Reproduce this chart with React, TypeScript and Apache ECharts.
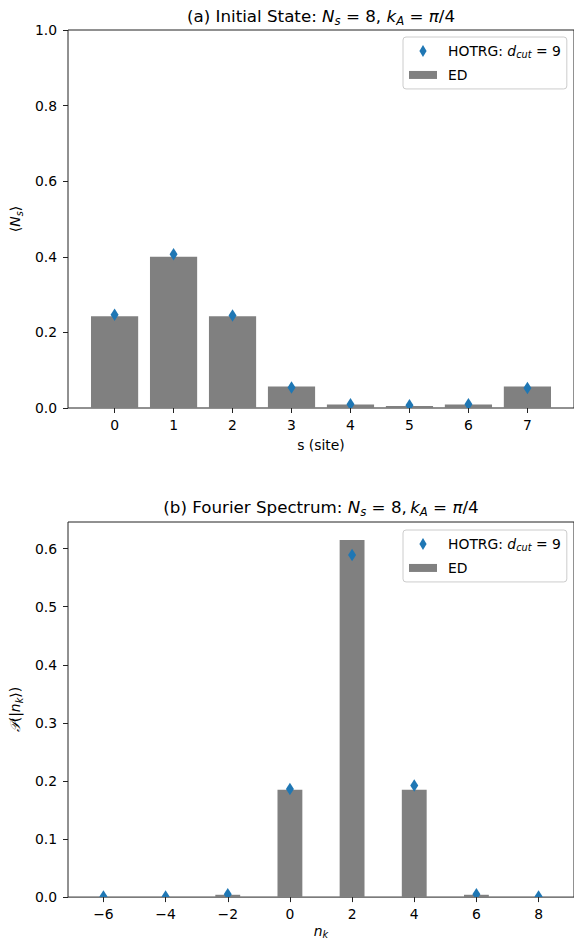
import React, { useEffect, useRef } from 'react';
import * as echarts from 'echarts';

// ---------- data ----------
const siteIndex = [0, 1, 2, 3, 4, 5, 6, 7];
const siteED = [0.243, 0.4, 0.243, 0.057, 0.009, 0.005, 0.009, 0.057];
const siteHOTRG = [0.247, 0.407, 0.245, 0.054, 0.01, 0.007, 0.01, 0.053];
const siteYTicks = [0, 0.2, 0.4, 0.6, 0.8, 1.0];

const nkIndex = [-6, -4, -2, 0, 2, 4, 6, 8];
const nkED = [0, 0, 0.004, 0.185, 0.615, 0.185, 0.004, 0];
const nkHOTRG = [0.001, 0.001, 0.005, 0.186, 0.589, 0.192, 0.005, 0.001];
const nkYTicks = [0, 0.1, 0.2, 0.3, 0.4, 0.5, 0.6];

// ---------- style ----------
const FONT = "'DejaVu Sans', 'Noto Sans', sans-serif";
const BAR_COLOR = '#808080';
const PT_COLOR = '#1f77b4';
const AXIS_COLOR = '#222';
const FS = 13.9;
const TITLE_FS = 16.7;

const DIAMOND_ICON = 'path://M3,0L6,5L3,10L0,5Z';
const RECT_ICON = 'path://M0,0L28,0L28,8L0,8Z';

function richSet(size: number) {
  const lh = size + 4;
  const sub = size * 0.7;
  return {
    t: { fontFamily: FONT, fontSize: size, fontWeight: 'normal', lineHeight: lh, color: '#000' },
    i: { fontFamily: FONT, fontSize: size, fontWeight: 'normal', fontStyle: 'italic', lineHeight: lh, color: '#000' },
    s: {
      fontFamily: FONT,
      fontSize: sub,
      fontWeight: 'normal',
      fontStyle: 'italic',
      lineHeight: sub + 1.5,
      verticalAlign: 'bottom',
      color: '#000',
    },
    sp: { fontFamily: FONT, fontSize: size, width: 6, lineHeight: lh },
  };
}

function diamondRender(_params: any, api: any) {
  const p = api.coord([api.value(0), api.value(1)]);
  const hw = 4;
  const hh = 6.25;
  return {
    type: 'polygon',
    shape: {
      points: [
        [p[0], p[1] - hh],
        [p[0] + hw, p[1]],
        [p[0], p[1] + hh],
        [p[0] - hw, p[1]],
      ],
    },
    style: { fill: PT_COLOR },
  };
}

function barRender(_params: any, api: any) {
  const x = api.value(0);
  const y = api.value(1);
  const a = api.coord([x - 0.4, y]);
  const b = api.coord([x + 0.4, 0]);
  return {
    type: 'rect',
    shape: { x: a[0], y: a[1], width: b[0] - a[0], height: b[1] - a[1] },
    style: { fill: BAR_COLOR },
  };
}

const minusFmt = (v: number) => (v < 0 ? '\u2212' + Math.abs(v) : String(v));

function legendFor(top: number) {
  return {
    left: 403,
    top,
    orient: 'vertical',
    padding: [7, 6, 7, 6],
    itemGap: 8,
    itemWidth: 28,
    itemHeight: 12,
    borderColor: '#cccccc',
    borderWidth: 1,
    borderRadius: 3,
    backgroundColor: 'rgba(255,255,255,0.8)',
    selectedMode: false,
    data: [
      { name: 'HOTRG', icon: DIAMOND_ICON, itemStyle: { color: PT_COLOR } },
      { name: 'ED', icon: RECT_ICON, itemStyle: { color: BAR_COLOR } },
    ],
    formatter: (name: string) =>
      name === 'HOTRG' ? '{sp| }{t|HOTRG: }{i|d}{s|cut}{t| = 9}' : '{sp| }{t|ED}',
    textStyle: { fontFamily: FONT, fontSize: FS, color: '#000', rich: richSet(FS) },
  };
}

const axisCommonY = {
  type: 'value',
  axisLine: { show: false, onZero: false },
  axisTick: { show: true, length: 5, lineStyle: { color: AXIS_COLOR, width: 1 } },
  axisLabel: {
    margin: 11,
    fontFamily: FONT,
    fontSize: FS,
    color: '#000',
    formatter: (v: number) => v.toFixed(1),
  },
  splitLine: { show: false },
  nameLocation: 'middle',
  nameRotate: 90,
  nameGap: 38,
  nameTextStyle: { fontFamily: FONT, fontSize: FS, color: '#000', rich: richSet(FS) },
};

const axisCommonX = {
  type: 'value',
  axisLine: { show: false, onZero: false },
  axisTick: { show: true, length: 5, lineStyle: { color: AXIS_COLOR, width: 1 } },
  splitLine: { show: false },
  nameLocation: 'middle',
  nameTextStyle: { fontFamily: FONT, fontSize: FS, color: '#000', rich: richSet(FS) },
};

const titleStyle = {
  fontFamily: FONT,
  fontSize: TITLE_FS,
  fontWeight: 'normal',
  color: '#000',
  rich: richSet(TITLE_FS),
};

const option: any = {
  animation: false,
  backgroundColor: '#fff',
  title: [
    {
      text: '{t|(a) Initial State: }{i|N}{s|s}{t| = 8, }{i|k}{s|A}{t| = }{i|\u03c0}{t|/4}',
      left: 321,
      top: 6,
      padding: 0,
      textAlign: 'center',
      textStyle: titleStyle,
    },
    {
      text: '{t|(b) Fourier Spectrum: }{i|N}{s|s}{t| = 8,\u2009}{i|k}{s|A}{t| = }{i|\u03c0}{t|/4}',
      left: 321,
      top: 497,
      padding: 0,
      textAlign: 'center',
      textStyle: titleStyle,
    },
  ],
  legend: [legendFor(37), legendFor(530)],
  grid: [
    { left: 68, top: 30, width: 506, height: 378, show: true, borderColor: AXIS_COLOR, borderWidth: 1, backgroundColor: 'transparent' },
    { left: 68, top: 522, width: 506, height: 378, show: true, borderColor: AXIS_COLOR, borderWidth: 1, backgroundColor: 'transparent' },
  ],
  xAxis: [
    {
      ...axisCommonX,
      gridIndex: 0,
      min: -0.79,
      max: 7.79,
      name: 's (site)',
      nameGap: 30,
      axisTick: { ...axisCommonX.axisTick, customValues: siteIndex },
      axisLabel: {
        margin: 10,
        fontFamily: FONT,
        fontSize: FS,
        color: '#000',
        customValues: siteIndex,
        formatter: (v: number) => String(v),
      },
    },
    {
      ...axisCommonX,
      gridIndex: 1,
      min: -7.14,
      max: 9.14,
      name: '{i|n}{s|k}',
      nameGap: 25,
      axisTick: { ...axisCommonX.axisTick, customValues: nkIndex },
      axisLabel: {
        margin: 10,
        fontFamily: FONT,
        fontSize: FS,
        color: '#000',
        customValues: nkIndex,
        formatter: minusFmt,
      },
    },
  ],
  yAxis: [
    {
      ...axisCommonY,
      gridIndex: 0,
      min: 0,
      max: 1,
      name: '{t|\u27e8}{i|N}{s|s}{t|\u27e9}',
      axisTick: { ...axisCommonY.axisTick, customValues: siteYTicks },
      axisLabel: { ...axisCommonY.axisLabel, customValues: siteYTicks },
    },
    {
      ...axisCommonY,
      gridIndex: 1,
      min: 0,
      max: 0.6458,
      name: '{i|\uD835\uDCAB}{t|(|}{i|n}{s|k}{t|\u27e9)}',
      axisTick: { ...axisCommonY.axisTick, customValues: nkYTicks },
      axisLabel: { ...axisCommonY.axisLabel, customValues: nkYTicks },
    },
  ],
  series: [
    {
      name: 'ED',
      type: 'custom',
      xAxisIndex: 0,
      yAxisIndex: 0,
      renderItem: barRender,
      encode: { x: 0, y: 1 },
      itemStyle: { color: BAR_COLOR },
      clip: true,
      z: 2,
      data: siteIndex.map((s, i) => [s, siteED[i]]),
    },
    {
      name: 'HOTRG',
      type: 'custom',
      xAxisIndex: 0,
      yAxisIndex: 0,
      renderItem: diamondRender,
      encode: { x: 0, y: 1 },
      itemStyle: { color: PT_COLOR },
      clip: true,
      z: 3,
      data: siteIndex.map((s, i) => [s, siteHOTRG[i]]),
    },
    {
      name: 'ED',
      type: 'custom',
      xAxisIndex: 1,
      yAxisIndex: 1,
      renderItem: barRender,
      encode: { x: 0, y: 1 },
      itemStyle: { color: BAR_COLOR },
      clip: true,
      z: 2,
      data: nkIndex.map((n, i) => [n, nkED[i]]),
    },
    {
      name: 'HOTRG',
      type: 'custom',
      xAxisIndex: 1,
      yAxisIndex: 1,
      renderItem: diamondRender,
      encode: { x: 0, y: 1 },
      itemStyle: { color: PT_COLOR },
      clip: true,
      z: 3,
      data: nkIndex.map((n, i) => [n, nkHOTRG[i]]),
    },
  ],
};

export default function App() {
  const ref = useRef<HTMLDivElement>(null);
  useEffect(() => {
    if (!ref.current) return;
    const chart = echarts.init(ref.current, null, { renderer: 'svg' });
    chart.setOption(option);
    return () => chart.dispose();
  }, []);
  return (
    <div
      ref={ref}
      style={{ position: 'absolute', left: 0, top: 0, width: 574, height: 941, background: '#fff' }}
    />
  );
}
